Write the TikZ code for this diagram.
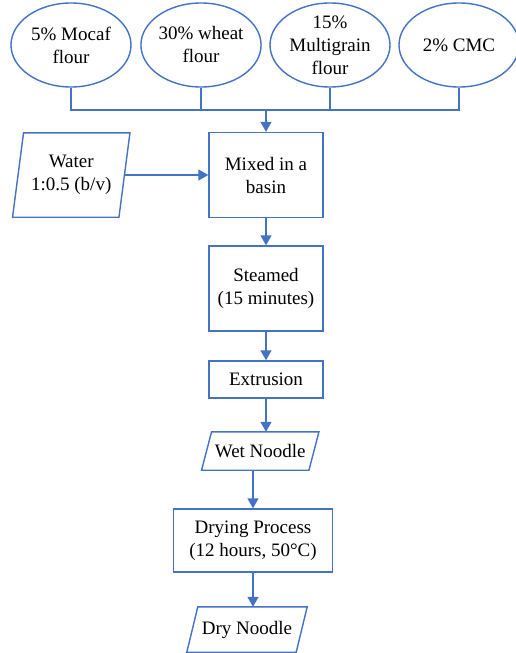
\documentclass[tikz,border=0pt]{standalone}
\usepackage{fontspec}
\setmainfont{Liberation Serif}
\newfontfamily\tnr{Liberation Serif}
\usetikzlibrary{arrows.meta,shapes.geometric}
\definecolor{ob}{HTML}{4472C4}
\newcommand\parabox[2]{%
  \draw[ln] ([xshift=#2/2]#1.north west) -- ([xshift=#2/2]#1.north east) -- ([xshift=-#2/2]#1.south east) -- ([xshift=-#2/2]#1.south west) -- cycle;}
\begin{document}
\begin{tikzpicture}[x=1pt,y=-1pt,
  ln/.style={draw=ob,line width=1.4pt},
  arr/.style={draw=ob,line width=1.4pt,-{Triangle[width=11pt,length=10pt]},fill=ob},
  txt/.style={font=\tnr\fontsize{19}{23}\selectfont,align=center,inner sep=0pt,text=black},
  ell/.style={txt,ellipse,ln,minimum width=120pt,minimum height=84pt},
  box/.style={txt,rectangle,ln,fill=white},
  pbox/.style={txt,rectangle,draw=none}]
\useasboundingbox[fill=white] (0,0) rectangle (515,653);
\node[ell] (e1) at (71,45) {5\% Mocaf\\flour};
\node[ell] (e2) at (201,45) {30\% wheat\\flour};
\node[ell] (e3) at (330,45) {15\%\\Multigrain\\flour};
\node[ell] (e4) at (459,45) {2\% CMC};
\coordinate (bus) at (266,110);
\node[box,minimum width=114pt,minimum height=85pt] (mix) at (266,175) {Mixed in a\\basin};
\node[pbox,minimum width=106pt,minimum height=84pt] (water) at (71.25,175) {Water\\1:0.5 (b/v)};
\parabox{water}{11pt}
\node[box,minimum width=114pt,minimum height=85pt] (steam) at (266,288.5) {Steamed\\(15 minutes)};
\node[box,minimum width=114pt,minimum height=37pt] (extr) at (266,379.5) {Extrusion};
\node[pbox,minimum width=107pt,minimum height=38pt] (wet) at (260.25,451) {Wet Noodle};
\parabox{wet}{10pt}
\node[box,minimum width=159pt,minimum height=63pt] (dry1) at (253,540.5) {Drying Process\\(12 hours, 50\textdegree C)};
\node[pbox,minimum width=109pt,minimum height=45pt] (dry) at (247,629.5) {Dry Noodle};
\parabox{dry}{11pt}
\draw[ln] (e1.south) |- (bus);
\draw[ln] (e2.south) |- (bus);
\draw[ln] (e3.south) |- (bus);
\draw[ln] (e4.south) |- (bus);
\draw[arr] (bus) -- (mix.north);
\draw[arr] (water.east) -- (mix.west);
\draw[arr] (mix.south) -- (steam.north);
\draw[arr] (steam.south) -- (extr.north);
\draw[arr] (extr.south) -- (extr.south |- wet.north);
\draw[arr] (dry1.north |- wet.south) -- (dry1.north);
\draw[arr] (dry1.south) -- (dry1.south |- dry.north);
\end{tikzpicture}
\end{document}
